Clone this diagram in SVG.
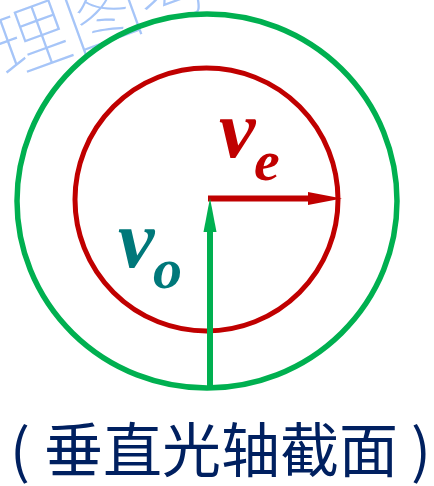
<svg xmlns="http://www.w3.org/2000/svg" width="434" height="486" viewBox="0 0 434 486">
  <style>
    .wm { font-family: "Noto Sans CJK SC", "Noto Sans", sans-serif; font-size: 76px; font-weight: 100; fill: #A6C5F8; }
    .sym { font-family: "Liberation Serif", "DejaVu Serif", serif; font-style: italic; font-weight: bold; }
    .cap { font-family: "Noto Sans CJK SC", "Noto Sans", sans-serif; font-size: 59px; fill: #002060; }
    .green { stroke: #00B050; fill: none; }
    .red { stroke: #C00000; fill: none; }
  </style>
  <defs>
    <marker id="headRed" markerUnits="userSpaceOnUse" markerWidth="34" markerHeight="14" refX="0" refY="7" orient="auto">
      <path d="M0,0.5 L34,7 L0,13.5 Z" fill="#C00000"/>
    </marker>
    <marker id="headGreen" markerUnits="userSpaceOnUse" markerWidth="34" markerHeight="14" refX="0" refY="7" orient="auto">
      <path d="M0,0.5 L34,7 L0,13.5 Z" fill="#00B050"/>
    </marker>
  </defs>
  <rect width="434" height="486" fill="#FFFFFF"/>
  <g id="watermark" transform="translate(31,40) rotate(-20)">
    <text class="wm" x="-38" y="27">理图考</text>
  </g>
  <g id="outer-circle">
    <ellipse class="green" cx="207" cy="201" rx="190" ry="187" stroke-width="5.5"/>
  </g>
  <g id="inner-circle">
    <circle class="red" cx="206.5" cy="199.5" r="131.5" stroke-width="5"/>
  </g>
  <g id="connectors">
    <line class="red" x1="208" y1="198.5" x2="308" y2="198.5" stroke-width="6" marker-end="url(#headRed)"/>
    <line class="green" x1="210" y1="389" x2="210" y2="232" stroke-width="6" marker-end="url(#headGreen)"/>
  </g>
  <g id="label-ve">
    <text class="sym" x="219" y="157" font-size="82" fill="#C00000">v</text>
    <text class="sym" x="254" y="180" font-size="58" fill="#C00000">e</text>
  </g>
  <g id="label-vo">
    <text class="sym" x="118" y="267" font-size="82" fill="#00787A">v</text>
    <text class="sym" x="153" y="288" font-size="58" fill="#00787A">o</text>
  </g>
  <g id="caption">
    <text class="cap" y="472"><tspan x="10">(</tspan><tspan x="44">垂直光轴截面</tspan><tspan x="411">)</tspan></text>
  </g>
</svg>
